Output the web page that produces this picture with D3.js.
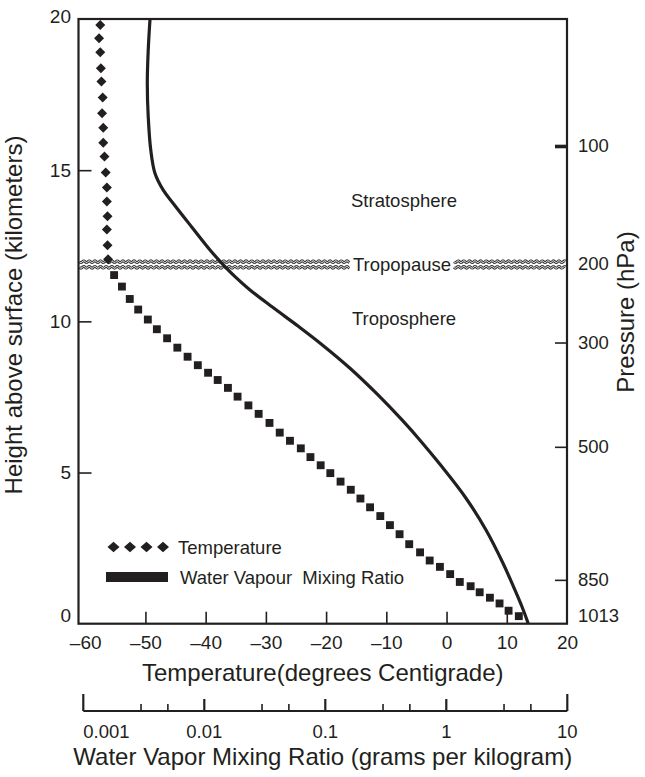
<!DOCTYPE html>
<html>
<head>
<meta charset="utf-8">
<script src="https://cdn.jsdelivr.net/npm/d3@7"></script>
<style>
  html, body { margin: 0; padding: 0; background: #fff; }
  svg { display: block; font-family: "Liberation Sans", Arial, Helvetica, sans-serif; }
</style>
</head>
<body>
<svg id="chart" width="645" height="777"></svg>
<script>
// ---- data ----
const tempTicks = [-60, -50, -40, -30, -20, -10, 0, 10, 20];
const heightTicks = [0, 5, 10, 15, 20];
const pressureLabels = ["100", "200", "300", "500", "850", "1013"];
const pressureHeights = [15.8, 11.9, 9.3, 5.85, 1.45, 0];
const mixingMajor = [0.001, 0.01, 0.1, 1, 10];
const mixingMinor = [0.003, 0.005, 0.03, 0.05, 0.3, 0.5, 3, 5];

// stratospheric temperature (diamonds)
const diamondHeights = [19.8, 19.36, 18.9, 18.37, 17.93, 17.4, 16.88, 16.4, 15.91, 15.45,
                        14.92, 14.43, 13.96, 13.48, 13.04, 12.52, 12.05];
const diamondTemps = [-57.5, -57.7, -57.5, -57.4, -57.3, -57.1, -57.2, -57.0, -57.0, -56.8,
                      -56.6, -56.4, -56.4, -56.3, -56.4, -56.3, -56.2];

// tropospheric temperature (squares)
const squareHeights = [11.53, 11.15, 10.74, 10.39, 10.06, 9.74, 9.44, 9.13, 8.83, 8.55,
                       8.30, 8.06, 7.80, 7.51, 7.22, 6.94, 6.64, 6.32, 6.05, 5.80,
                       5.51, 5.24, 4.98, 4.70, 4.43, 4.14, 3.85, 3.56, 3.26, 2.96,
                       2.63, 2.36, 2.09, 1.88, 1.64, 1.38, 1.24, 1.04, 0.86, 0.67,
                       0.43, 0.25];
const squareTemps = [-55.2, -53.9, -52.6, -51.2, -49.6, -48.1, -46.4, -44.7, -43.0, -41.3,
                     -39.6, -38.0, -36.3, -34.7, -32.9, -31.2, -29.4, -27.7, -26.0, -24.2,
                     -22.6, -20.9, -19.3, -17.6, -15.9, -14.3, -12.7, -11.0, -9.4, -7.8,
                     -6.2, -4.4, -2.8, -1.1, 0.6, 2.2, 4.0, 5.5, 7.2, 8.8,
                     10.3, 12.0];

// water vapour mixing ratio profile (g/kg)
const vapourHeights = [20.0, 18.97, 17.87, 16.77, 15.67, 14.9, 14.34, 13.9, 13.13, 12.36,
                       11.97, 11.48, 11.04, 10.48, 9.82, 9.27, 8.45, 7.6, 6.74, 6.07,
                       5.19, 4.2, 3.1, 2.0, 1.11, 0.56, 0.07, 0];
const vapourRatios = [0.00356, 0.00344, 0.00338, 0.00344, 0.00361, 0.00391, 0.00458, 0.00554, 0.00784, 0.01115,
                      0.01361, 0.01794, 0.02386, 0.03627, 0.06063, 0.09127, 0.160, 0.2675, 0.4304, 0.6063,
                      0.9215, 1.427, 2.129, 2.942, 3.697, 4.223, 4.69, 4.75];

const tropopauseHeight = 11.88;
const layerNames = ["Stratosphere", "Tropopause", "Troposphere"];
const layerHeights = [14.0, tropopauseHeight, 10.1];
const legendLabels = ["Temperature", "Water Vapour  Mixing Ratio"];

// ---- layout ----
const ink = "#231f20";
const plot = { left: 78.5, right: 567, top: 19, bottom: 623.7 };
const logAxisY = 711;

const svg = d3.select("#chart");
svg.append("rect").attr("width", 645).attr("height", 777).attr("fill", "#fff");

const x = d3.scaleLinear().domain([-60, 20]).range([85.2, plot.right]);
const y = d3.scaleLinear().domain([0, 20]).range([plot.bottom, plot.top]);
const q = d3.scaleLog().domain([0.001, 10]).range([83.3, 567.3]);

svg.append("clipPath").attr("id", "plotClip")
  .append("rect")
  .attr("x", plot.left).attr("y", plot.top)
  .attr("width", plot.right - plot.left).attr("height", plot.bottom - plot.top);

// ---- tropopause band (two wavy double lines broken around the label) ----
const tropoLabel = svg.append("text")
  .attr("x", 402).attr("y", y(tropopauseHeight))
  .attr("dy", "0.36em")
  .attr("text-anchor", "middle")
  .attr("font-size", 18.5)
  .attr("fill", ink)
  .text(layerNames[1]);
const labelW = tropoLabel.node().getComputedTextLength();
const gapL = 402 - labelW / 2 - 3, gapR = 402 + labelW / 2 + 3;

function wave(x0, x1, yy) {
  const pts = d3.range(x0, x1 + 0.01, 0.5).map(v => [v, yy + 0.9 * Math.sin((v - x0) / 5.6 * 2 * Math.PI)]);
  return d3.line()(pts);
}
const band = svg.append("g");
[-2.8, 2.8].forEach(off => {
  [[plot.left + 1, gapL], [gapR, plot.right - 1]].forEach(([a, b]) => {
    const d = wave(a, b, y(tropopauseHeight) + off);
    band.append("path").attr("d", d).attr("fill", "none").attr("stroke", "#3a3a3a").attr("stroke-width", 2.8);
    band.append("path").attr("d", d).attr("fill", "none").attr("stroke", "#fff").attr("stroke-width", 1.0);
  });
});
tropoLabel.raise();

// ---- layer names ----
svg.selectAll("text.layer")
  .data([0, 2])
  .join("text")
  .attr("class", "layer")
  .attr("x", 404)
  .attr("y", i => y(layerHeights[i]))
  .attr("dy", "0.36em")
  .attr("text-anchor", "middle")
  .attr("font-size", 18.5)
  .attr("fill", ink)
  .text(i => layerNames[i]);

// ---- water vapour curve ----
const vapour = vapourHeights.map((h, i) => ({ h, r: vapourRatios[i] }));
svg.append("path")
  .datum(vapour)
  .attr("clip-path", "url(#plotClip)")
  .attr("fill", "none")
  .attr("stroke", ink)
  .attr("stroke-width", 3.2)
  .attr("stroke-linejoin", "round")
  .attr("d", d3.line().x(d => q(d.r)).y(d => y(d.h)).curve(d3.curveCatmullRom.alpha(0.5)));

// ---- temperature markers ----
const diamondPath = d3.symbol(d3.symbolSquare, 50)();
const squarePath = d3.symbol(d3.symbolSquare, 62)();

svg.append("g").selectAll("path")
  .data(diamondHeights.map((h, i) => ({ h, t: diamondTemps[i] })))
  .join("path")
  .attr("d", diamondPath)
  .attr("fill", ink)
  .attr("transform", d => `translate(${x(d.t)},${y(d.h)}) rotate(45)`);

svg.append("g").selectAll("path")
  .data(squareHeights.map((h, i) => ({ h, t: squareTemps[i] })))
  .join("path")
  .attr("d", squarePath)
  .attr("fill", ink)
  .attr("transform", d => `translate(${x(d.t)},${y(d.h)})`);

// ---- frame ----
svg.append("rect")
  .attr("x", plot.left).attr("y", plot.top)
  .attr("width", plot.right - plot.left).attr("height", plot.bottom - plot.top)
  .attr("fill", "none").attr("stroke", ink).attr("stroke-width", 2.2);

// ---- temperature axis ----
const fmtT = d => d < 0 ? "\u2013" + Math.abs(d) : String(d);
const xAxis = svg.append("g")
  .attr("transform", `translate(0,${plot.bottom})`)
  .call(d3.axisBottom(x).tickValues(tempTicks).tickFormat(fmtT).tickSize(-12).tickPadding(11.5));
xAxis.select(".domain").remove();
xAxis.selectAll(".tick line").filter(d => d === -60 || d === 20).remove();
xAxis.selectAll(".tick line").attr("stroke", ink).attr("stroke-width", 1.6);
xAxis.selectAll(".tick text").attr("font-size", 19).attr("fill", ink).attr("font-family", null);

// ---- height axis ----
const yAxis = svg.append("g")
  .attr("transform", `translate(${plot.left},0)`)
  .call(d3.axisLeft(y).tickValues(heightTicks).tickSize(-13).tickPadding(7.5));
yAxis.select(".domain").remove();
yAxis.selectAll(".tick line").filter(d => d === 0 || d === 20).remove();
yAxis.selectAll(".tick line").attr("stroke", ink).attr("stroke-width", 1.6);
yAxis.selectAll(".tick text").attr("font-size", 19).attr("fill", ink).attr("font-family", null)
  .attr("y", d => d === 0 ? -8 : d === 20 ? -3 : 0);

// ---- pressure axis ----
const pAxis = svg.append("g")
  .attr("transform", `translate(${plot.right},0)`)
  .call(d3.axisRight(y).tickValues(pressureHeights)
    .tickFormat((d, i) => pressureLabels[i]).tickSize(-12).tickPadding(11));
pAxis.select(".domain").remove();
pAxis.selectAll(".tick line").filter((d, i) => pressureLabels[i] === "200" || pressureLabels[i] === "1013").remove();
pAxis.selectAll(".tick line").attr("stroke", ink).attr("stroke-width", 1.6);
pAxis.selectAll(".tick").filter(d => d === pressureHeights[0]).select("line").attr("stroke-width", 3.6);
pAxis.selectAll(".tick text").attr("font-size", 18.5).attr("fill", ink).attr("font-family", null)
  .attr("y", d => d === 0 ? -8.5 : 0);

// ---- mixing ratio axis ----
const lAxis = svg.append("g");
lAxis.append("line")
  .attr("x1", q(mixingMajor[0])).attr("x2", q(mixingMajor[mixingMajor.length - 1]))
  .attr("y1", logAxisY).attr("y2", logAxisY)
  .attr("stroke", ink).attr("stroke-width", 2.2);
lAxis.selectAll("line.major")
  .data(mixingMajor)
  .join("line").attr("class", "major")
  .attr("x1", d => q(d)).attr("x2", d => q(d))
  .attr("y1", logAxisY)
  .attr("y2", (d, i) => logAxisY - (i === 0 || i === mixingMajor.length - 1 ? 17 : 12))
  .attr("stroke", ink).attr("stroke-width", 2.2);
lAxis.selectAll("line.minor")
  .data(mixingMinor)
  .join("line").attr("class", "minor")
  .attr("x1", d => q(d)).attr("x2", d => q(d))
  .attr("y1", logAxisY).attr("y2", logAxisY - 7)
  .attr("stroke", ink).attr("stroke-width", 1.6);
lAxis.selectAll("text")
  .data(mixingMajor)
  .join("text")
  .attr("x", d => q(d))
  .attr("y", 738)
  .attr("text-anchor", (d, i) => i === 0 ? "start" : "middle")
  .attr("font-size", 18.5)
  .attr("fill", ink)
  .text(d => String(d));

// ---- axis titles ----
const midX = (plot.left + plot.right) / 2;
svg.append("text")
  .attr("x", midX).attr("y", 681)
  .attr("text-anchor", "middle").attr("font-size", 24).attr("fill", ink)
  .text("Temperature(degrees Centigrade)");
svg.append("text")
  .attr("x", midX).attr("y", 765)
  .attr("text-anchor", "middle").attr("font-size", 24).attr("fill", ink)
  .text("Water Vapor Mixing Ratio (grams per kilogram)");
svg.append("text")
  .attr("transform", `translate(22,315) rotate(-90)`)
  .attr("text-anchor", "middle").attr("font-size", 24).attr("fill", ink)
  .text("Height above surface (kilometers)");
svg.append("text")
  .attr("transform", `translate(634,312) rotate(-90)`)
  .attr("text-anchor", "middle").attr("font-size", 24).attr("fill", ink)
  .text("Pressure (hPa)");

// ---- legend ----
const legend = svg.append("g").attr("transform", "translate(106,547)");
legend.selectAll("path")
  .data(d3.range(4))
  .join("path")
  .attr("d", d3.symbol(d3.symbolSquare, 62)())
  .attr("fill", ink)
  .attr("transform", i => `translate(${7.5 + i * 16.5},0) scale(1.08,0.95) rotate(45)`);
legend.append("rect")
  .attr("x", 0).attr("y", 25).attr("width", 62).attr("height", 10)
  .attr("fill", ink);
legend.selectAll("text")
  .data(legendLabels)
  .join("text")
  .attr("x", (d, i) => i === 0 ? 72 : 74)
  .attr("y", (d, i) => i * 30)
  .attr("dy", "0.36em")
  .attr("font-size", 18.5)
  .attr("fill", ink)
  .style("white-space", "pre")
  .text(d => d);
</script>
</body>
</html>
